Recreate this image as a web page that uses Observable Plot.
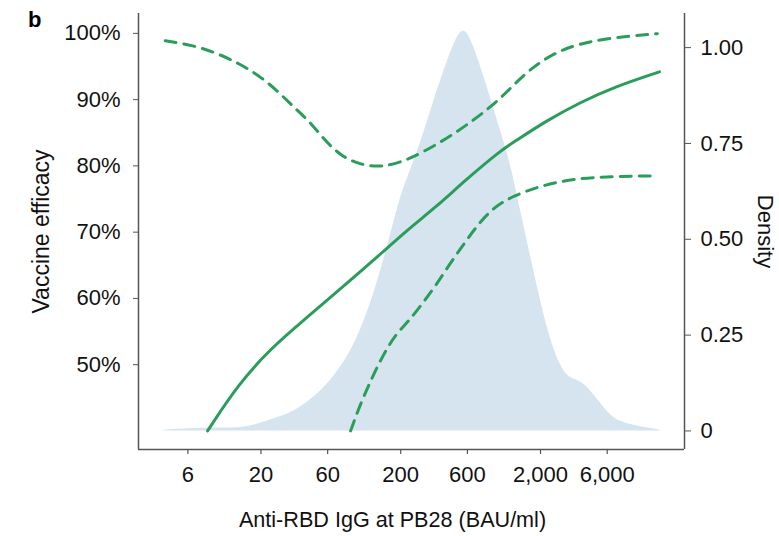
<!DOCTYPE html>
<html>
<head>
<meta charset="utf-8">
<script src="https://cdn.jsdelivr.net/npm/d3@7"></script>
<script src="https://cdn.jsdelivr.net/npm/@observablehq/plot@0.6"></script>
<style>
  html, body { margin: 0; padding: 0; background: #fff; }
  #wrap { position: relative; width: 779px; height: 536px; font-family: "Liberation Sans", Arial, Helvetica, sans-serif; }
  #panel { position: absolute; left: 28px; top: 9px; font-weight: bold; font-size: 22px; color: #000; line-height: 1; }
</style>
</head>
<body>
<div id="wrap"><div id="panel">b</div></div>
<script>
// Tick values / labels
const xTicks = [6, 20, 60, 200, 600, 2000, 6000];
const effTicks = [50, 60, 70, 80, 90, 100];
const densTicks = [0, 0.25, 0.5, 0.75, 1];
const densTickLabels = ["0", "0.25", "0.50", "0.75", "1.00"];

// Vaccine efficacy estimate (solid)
const solidX = [8.3, 13.8, 23.9, 41.5, 71.8, 124, 227, 345, 598, 1036, 1289, 2234, 3865, 6685, 14200];
const solidY = [40, 47.1, 52.6, 56.9, 61.2, 65.5, 70.5, 73.5, 78.1, 82.3, 83.6, 86.9, 89.6, 91.9, 94.2];

// Upper confidence bound (dashed)
const upperX = [4.13, 6.58, 9.73, 13.8, 19.2, 26.0, 34.2, 45.1, 57.5, 75.7, 105, 148, 223, 406, 667, 1036, 1608, 2780, 5380, 13700];
const upperY = [98.9, 98.2, 97.0, 95.5, 93.7, 91.4, 88.9, 86.6, 83.8, 81.4, 80.1, 79.8, 80.8, 83.8, 86.9, 90.1, 94.4, 97.7, 99.2, 99.95];

// Lower confidence bound (dashed)
const lowerX = [87.5, 103, 125, 151, 184, 229, 285, 355, 442, 565, 704, 927, 1289, 2000, 3460, 6685, 12900];
const lowerY = [40, 44.1, 48.1, 51.6, 54.6, 56.6, 59.2, 61.9, 65.0, 68.2, 71.0, 73.8, 75.5, 77.0, 78.1, 78.4, 78.5];

// Density of antibody levels
const densX = [4.02, 7.99, 11.1, 16.3, 23.9, 31.5, 41.5, 54.4, 71.8, 94.6, 124, 146, 172, 204, 263, 345, 454, 560, 667, 834, 1036, 1219, 1439, 1790, 2234, 2780, 3270, 3960, 4800, 6340, 8330, 14400];
const densY = [0.002, 0.008, 0.007, 0.009, 0.03, 0.043, 0.07, 0.104, 0.157, 0.226, 0.339, 0.426, 0.52, 0.627, 0.722, 0.862, 0.99, 1.065, 1.005, 0.896, 0.783, 0.70, 0.574, 0.418, 0.261, 0.165, 0.135, 0.13, 0.096, 0.035, 0.017, 0.002];

const xDomain = [2.66, 21440];
const yDomain = [37.2, 103];
const d2e = d => 40 + d * 57.85;   // density -> efficacy units (secondary axis)

const toRows = (xs, ys) => xs.map((x, i) => ({x, y: ys[i]}));
const solid = toRows(solidX, solidY);
const upper = toRows(upperX, upperY);
const lower = toRows(lowerX, lowerY);
const dens = toRows(densX, densY);

const green = "#2b9d5b";
const axisColor = "#555";
const densLab = new Map(densTicks.map((d, i) => [d2e(d), densTickLabels[i]]));
const fmtComma = d3.format(",");
const plotH = 536 - 13 - 87;
const tickLen = 5 * (yDomain[1] - yDomain[0]) / plotH;   // 5px outward tick, in y units

const chart = Plot.plot({
  width: 779,
  height: 536,
  marginLeft: 138,
  marginRight: 95,
  marginTop: 13,
  marginBottom: 87,
  style: {fontFamily: "'Liberation Sans', Arial, Helvetica, sans-serif", fontSize: "22px", background: "transparent", color: "#111"},
  x: {type: "log", domain: xDomain, axis: null},
  y: {domain: yDomain},
  marks: [
    Plot.areaY(dens, {x: "x", y1: () => d2e(0), y2: d => d2e(d.y), fill: "#d5e4ef", curve: "basis"}),
    Plot.line(upper, {x: "x", y: "y", stroke: green, strokeWidth: 3, strokeDasharray: "11,8", curve: "basis"}),
    Plot.line(lower, {x: "x", y: "y", stroke: green, strokeWidth: 3, strokeDasharray: "11,8", curve: "basis"}),
    Plot.line(solid, {x: "x", y: "y", stroke: green, strokeWidth: 3, curve: "basis"}),
    Plot.ruleX([xDomain[0], xDomain[1]], {stroke: axisColor, strokeWidth: 1.5}),
    Plot.ruleY([yDomain[0]], {stroke: axisColor, strokeWidth: 1.5}),
    Plot.axisY(effTicks, {anchor: "left", tickSize: 5, tickPadding: 13, tickFormat: d => d + "%", label: null, stroke: axisColor, fontSize: 22}),
    Plot.axisY(densTicks.map(d2e), {anchor: "right", tickSize: 6, tickPadding: 10, tickFormat: v => densLab.get(v), label: null, stroke: axisColor, fontSize: 22}),
    // bottom axis ticks (short outward marks) and labels
    Plot.ruleX(xTicks, {x: d => d, y1: yDomain[0], y2: yDomain[0] - tickLen, stroke: axisColor, strokeWidth: 1.2}),
    Plot.text(xTicks, {x: d => d, frameAnchor: "bottom", dy: 17, lineAnchor: "top", textAnchor: "middle", text: d => fmtComma(d), fontSize: 22, fill: "#111"}),
    Plot.text(["Vaccine efficacy"], {frameAnchor: "left", textAnchor: "middle", lineAnchor: "middle", dx: -97, rotate: -90, text: d => d, fontSize: 23, fill: "#111"}),
    Plot.text(["Density"], {frameAnchor: "right", textAnchor: "middle", lineAnchor: "middle", dx: 81, rotate: 90, text: d => d, fontSize: 22, fill: "#111"}),
    Plot.text(["Anti-RBD IgG at PB28 (BAU/ml)"], {frameAnchor: "bottom", textAnchor: "middle", lineAnchor: "middle", dx: -19, dy: 71, text: d => d, fontSize: 21.6, fill: "#111"})
  ]
});
document.getElementById("wrap").prepend(chart);
</script>
</body>
</html>
